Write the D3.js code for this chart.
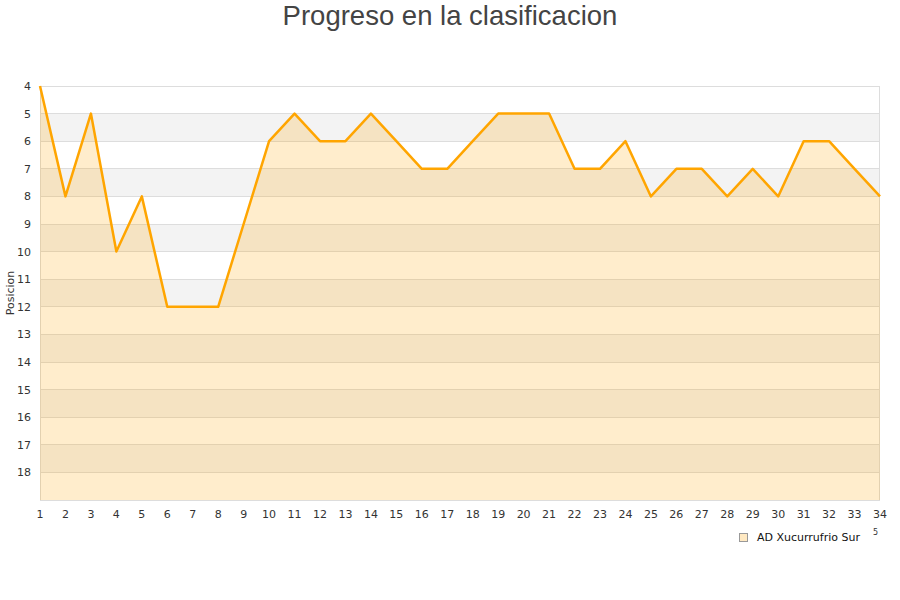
<!DOCTYPE html>
<html><head><meta charset="utf-8">
<script src="https://cdn.jsdelivr.net/npm/d3@7/dist/d3.min.js"></script>
<style>body{margin:0;background:#fff}svg{display:block}</style>
</head><body>
<svg id="c" width="900" height="600"></svg>
<script>
const jornadas = [1,2,3,4,5,6,7,8,9,10,11,12,13,14,15,16,17,18,19,20,21,22,23,24,25,26,27,28,29,30,31,32,33,34];
const posiciones = [4,8,5,10,8,12,12,12,9,6,5,6,6,5,6,7,7,6,5,5,5,7,7,6,8,7,7,8,7,8,6,6,7,8];
const yTicks = [4,5,6,7,8,9,10,11,12,13,14,15,16,17,18];
const equipo = "AD Xucurrufrio Sur";
const titulo = "Progreso en la clasificacion";

const svg = d3.select("#c");
const L=40,R=880,T=86,B=500;
const x = d3.scaleLinear().domain([1,34]).range([L,R]);
const y = d3.scaleLinear().domain([4,19]).range([T,B]);

const bands = d3.range(4,19);
svg.append("g").selectAll("rect").data(bands).join("rect")
  .attr("x",L).attr("width",R-L)
  .attr("y",d=>y(d)).attr("height",d=>y(d+1)-y(d))
  .attr("fill",d=>d%2===1?"#f3f3f3":"#ffffff");
svg.append("g").selectAll("line").data(d3.range(4,20)).join("line")
  .attr("x1",L).attr("x2",R).attr("y1",d=>y(d)).attr("y2",d=>y(d))
  .attr("stroke","#dddddd").attr("stroke-width",1).attr("shape-rendering","crispEdges");
svg.append("line").attr("x1",L+0.5).attr("x2",L+0.5).attr("y1",T).attr("y2",B).attr("stroke","#dddddd");
svg.append("line").attr("x1",R-0.5).attr("x2",R-0.5).attr("y1",T).attr("y2",B).attr("stroke","#dddddd");
svg.append("line").attr("x1",L).attr("x2",R).attr("y1",B+0.5).attr("y2",B+0.5).attr("stroke","#dddddd");

const data = jornadas.map((j,i)=>({j, p:posiciones[i]}));
const area = d3.area().x(d=>x(d.j)).y0(y(19)).y1(d=>y(d.p));
svg.append("path").datum(data).attr("d",area).attr("fill","rgba(255,165,0,0.2)");
const line = d3.line().x(d=>x(d.j)).y(d=>y(d.p));
svg.append("path").datum(data).attr("d",line).attr("fill","none")
  .attr("stroke","#ffa500").attr("stroke-width",2.5).attr("stroke-linejoin","round");

svg.append("g").selectAll("text").data(yTicks).join("text")
  .attr("x",31).attr("y",d=>y(d)+4).attr("text-anchor","end")
  .attr("font-family","DejaVu Sans").attr("font-size",11).attr("fill","#333")
  .text(d=>d);
svg.append("g").selectAll("text").data(jornadas).join("text")
  .attr("x",d=>x(d)).attr("y",518).attr("text-anchor","middle")
  .attr("font-family","DejaVu Sans").attr("font-size",11).attr("fill","#333")
  .text(d=>d);

svg.append("text").attr("transform","translate(14,293) rotate(-90)")
  .attr("text-anchor","middle").attr("font-family","DejaVu Sans").attr("font-size",11).attr("fill","#333")
  .text("Posicion");

svg.append("text").attr("x",450).attr("y",25).attr("text-anchor","middle")
  .attr("font-family","Liberation Sans, Arial").attr("font-size",27.5).attr("fill","#444")
  .text(titulo);

svg.append("rect").attr("x",739.5).attr("y",533.5).attr("width",8).attr("height",8)
  .attr("fill","#ffe9c2").attr("stroke","#999").attr("stroke-width",1);
svg.append("text").attr("x",757).attr("y",541).attr("font-family","DejaVu Sans").attr("font-size",11)
  .attr("fill","#111").text(equipo);
svg.append("text").attr("x",873).attr("y",535).attr("font-family","DejaVu Sans").attr("font-size",8)
  .attr("fill","#333").text("5");
</script>
</body></html>
